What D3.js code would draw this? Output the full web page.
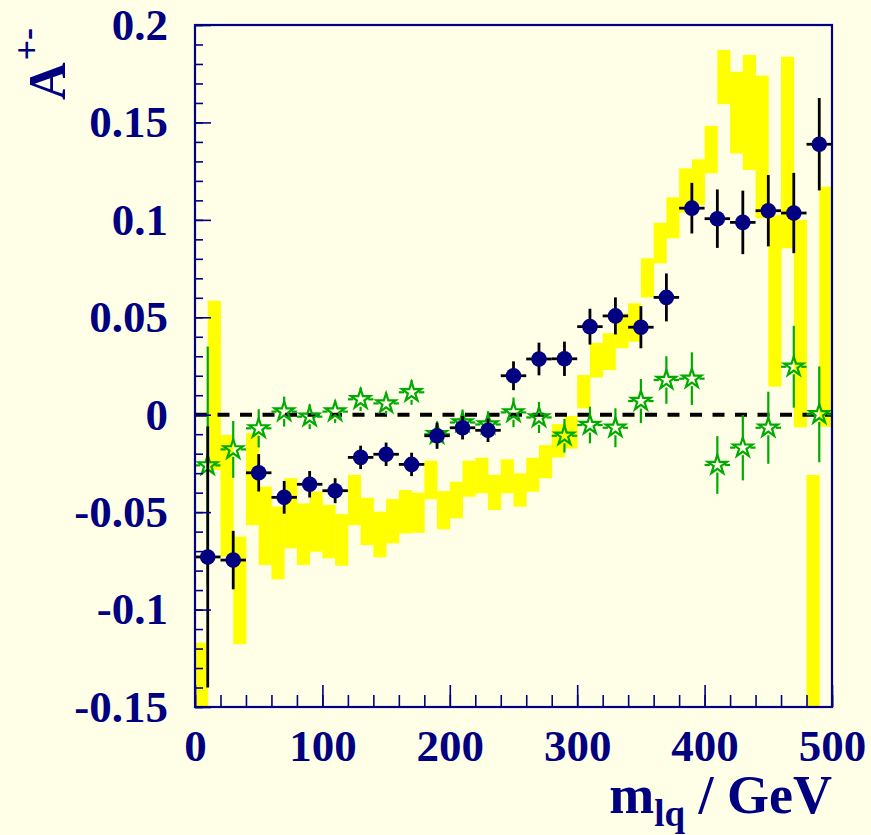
<!DOCTYPE html>
<html>
<head>
<meta charset="utf-8">
<script src="https://cdn.jsdelivr.net/npm/d3@7"></script>
<style>
  html, body { margin: 0; padding: 0; background: #ffffe8; }
  svg { display: block; }
  text { font-family: "Liberation Serif", "Times New Roman", serif; font-weight: bold; fill: #000080; }
</style>
</head>
<body>
<svg id="chart" width="871" height="835"></svg>
<script>
// Bin centres of the measured asymmetry (GeV)
const massBins = [10, 30, 50, 70, 90, 110, 130, 150, 170, 190, 210, 230, 250,
                  270, 290, 310, 330, 350, 370, 390, 410, 430, 450, 470, 490];

// Data: filled circles
const dataA = [-0.073, -0.0746, -0.0298, -0.0424, -0.0357, -0.039, -0.0219, -0.0203, -0.0255,
               -0.0108, -0.0067, -0.008, 0.020, 0.0286, 0.0287, 0.0452, 0.0507, 0.0449,
               0.0602, 0.106, 0.1006, 0.0987, 0.1047, 0.1035, 0.1388];
const dataErr = [0.067, 0.015, 0.0096, 0.0084, 0.0068, 0.0064, 0.006, 0.006, 0.006,
                 0.0067, 0.006, 0.006, 0.0074, 0.0084, 0.0088, 0.0092, 0.0095, 0.0108,
                 0.0123, 0.013, 0.015, 0.0163, 0.0183, 0.0206, 0.0237];

// Second sample: open stars
const starA = [-0.026, -0.0178, -0.007, 0.0016, -0.001, 0.0016, 0.0079, 0.0058, 0.0115,
               -0.010, -0.004, -0.005, 0.0012, -0.0014, -0.0108, -0.0053, -0.0067, 0.0070,
               0.0178, 0.0185, -0.0258, -0.0169, -0.0067, 0.0246, 0.0002];
const starErr = [0.061, 0.0146, 0.0098, 0.0077, 0.0064, 0.0058, 0.006, 0.0056, 0.0064,
                 0.0066, 0.0066, 0.0068, 0.0076, 0.008, 0.0086, 0.0094, 0.01, 0.0113,
                 0.0122, 0.0135, 0.0148, 0.0168, 0.0185, 0.021, 0.0246];

// Prediction band, 10 GeV bins from 0 to 500: lower and upper edges
const bandEdges = d3.range(0, 501, 10);
const bandHi = [-0.117, 0.0585, -0.0104, -0.0626, -0.0095, -0.0369, -0.0472, -0.0326, -0.0455, -0.0395,
                -0.0463, -0.051, -0.0309, -0.0426, -0.0498, -0.0433, -0.0386, -0.04, -0.0236, -0.0392,
                -0.0344, -0.0236, -0.0221, -0.0309, -0.0229, -0.0301, -0.0221, -0.0156, -0.0048, -0.0007,
                0.0204, 0.0368, 0.0418, 0.052, 0.0572, 0.0803, 0.0985, 0.1116, 0.1264, 0.1311,
                0.1482, 0.1872, 0.176, 0.1846, 0.174, 0.1024, 0.1837, 0.0999, -0.0309, 0.117];
const bandLo = [-0.2, -0.0284, -0.0728, -0.1178, -0.0567, -0.0771, -0.0845, -0.0686, -0.0771, -0.0703,
                -0.0737, -0.0775, -0.0567, -0.0669, -0.0732, -0.066, -0.0609, -0.0606, -0.0434, -0.0588,
                -0.0532, -0.0421, -0.0403, -0.0489, -0.0403, -0.0472, -0.0395, -0.0326, -0.022, -0.0174,
                0.0033, 0.0191, 0.0229, 0.0341, 0.0375, 0.0602, 0.0777, 0.0905, 0.1037, 0.1076,
                0.1239, 0.1594, 0.1341, 0.1256, 0.1008, 0.0144, 0.0854, -0.0065, -0.2, -0.0062];

// Axis ticks
const xMajor = [0, 100, 200, 300, 400, 500];
const xMinor = d3.range(0, 501, 20);
const yMajor = [-0.15, -0.1, -0.05, 0, 0.05, 0.1, 0.15, 0.2];
const yMinor = d3.range(-15, 21, 1).map(v => v / 100);

const halfBin = 10;

const svg = d3.select("#chart");
const L = 195, R = 832, T = 25, B = 707;
const x = d3.scaleLinear().domain([0, 500]).range([L, R]);
const y = d3.scaleLinear().domain([-0.15, 0.2]).range([B, T]);

const navy = "#000080";
const green = "#00aa00";

svg.append("defs").append("clipPath").attr("id", "plotClip")
  .append("rect").attr("x", L).attr("y", T).attr("width", R - L).attr("height", B - T);

// Prediction band
svg.append("g").attr("clip-path", "url(#plotClip)")
  .selectAll("rect").data(bandHi).join("rect")
  .attr("x", (d, i) => x(bandEdges[i]))
  .attr("width", (d, i) => x(bandEdges[i + 1]) - x(bandEdges[i]) + 0.4)
  .attr("y", (d, i) => y(d))
  .attr("height", (d, i) => y(bandLo[i]) - y(d))
  .attr("fill", "#ffff00");

// Zero line
svg.append("line")
  .attr("x1", x(0)).attr("x2", x(500)).attr("y1", y(0)).attr("y2", y(0))
  .attr("stroke", "#000").attr("stroke-width", 4).attr("stroke-dasharray", "12,10.5");

// Error bars drawn outside the marker
function errorBars(g, xs, vals, errs, gap, color, width) {
  const segs = [];
  xs.forEach((cx, i) => {
    const px = x(cx), py = y(vals[i]);
    const top = y(vals[i] + errs[i]), bot = y(vals[i] - errs[i]);
    const left = x(cx - halfBin), right = x(cx + halfBin);
    if (py - top > gap) segs.push([px, py - gap, px, top]);
    if (bot - py > gap) segs.push([px, py + gap, px, bot]);
    segs.push([left, py, px - gap, py]);
    segs.push([px + gap, py, right, py]);
  });
  g.selectAll("line").data(segs).join("line")
    .attr("x1", d => d[0]).attr("y1", d => d[1])
    .attr("x2", d => d[2]).attr("y2", d => d[3])
    .attr("stroke", color).attr("stroke-width", width);
}

const gStar = svg.append("g").attr("clip-path", "url(#plotClip)");
errorBars(gStar.append("g"), massBins, starA, starErr, 7.5, green, 2.2);
gStar.append("g").selectAll("path").data(starA).join("path")
  .attr("d", d3.symbol(d3.symbolStar, 115))
  .attr("transform", (d, i) => `translate(${x(massBins[i])},${y(d)})`)
  .attr("fill", "none").attr("stroke", green).attr("stroke-width", 2.2);

const gData = svg.append("g").attr("clip-path", "url(#plotClip)");
errorBars(gData.append("g"), massBins, dataA, dataErr, 5, "#000", 2.8);
gData.append("g").selectAll("circle").data(dataA).join("circle")
  .attr("cx", (d, i) => x(massBins[i])).attr("cy", d => y(d))
  .attr("r", 7.8).attr("fill", navy);

// Axes: ticks point into the frame
const fmt = d => String(+d.toFixed(2));
function styleAxis(g) {
  g.select(".domain").remove();
  g.selectAll(".tick line").attr("stroke", navy).attr("stroke-width", 1.6);
  g.selectAll(".tick text").attr("font-size", 45).attr("fill", navy)
    .attr("font-family", "Liberation Serif, serif").attr("font-weight", "bold");
}
svg.append("g").attr("transform", `translate(0,${B})`)
  .call(d3.axisBottom(x).tickValues(xMinor).tickSize(-12).tickFormat(""))
  .call(styleAxis);
svg.append("g").attr("transform", `translate(0,${B})`)
  .call(d3.axisBottom(x).tickValues(xMajor).tickSize(-22).tickPadding(22).tickFormat(fmt))
  .call(styleAxis);
svg.append("g").attr("transform", `translate(${L},0)`)
  .call(d3.axisLeft(y).tickValues(yMinor).tickSize(-8).tickFormat(""))
  .call(styleAxis);
svg.append("g").attr("transform", `translate(${L},0)`)
  .call(d3.axisLeft(y).tickValues(yMajor).tickSize(-16).tickPadding(27).tickFormat(fmt))
  .call(styleAxis);

// Frame
svg.append("rect").attr("x", L).attr("y", T).attr("width", R - L).attr("height", B - T)
  .attr("fill", "none").attr("stroke", navy).attr("stroke-width", 2.2);

// Axis titles
const xt = svg.append("text").attr("x", R).attr("y", 813)
  .attr("text-anchor", "end").attr("font-size", 54);
xt.append("tspan").text("m");
xt.append("tspan").attr("font-size", 37).attr("dy", 13).text("lq");
xt.append("tspan").attr("dy", -13).text(" / GeV");

const yt = svg.append("text").attr("transform", "translate(65,100) rotate(-90)")
  .attr("font-size", 52);
yt.append("tspan").text("A");
yt.append("tspan").attr("font-size", 36).attr("dy", -26).attr("dx", 2).text("+-");
</script>
</body>
</html>
